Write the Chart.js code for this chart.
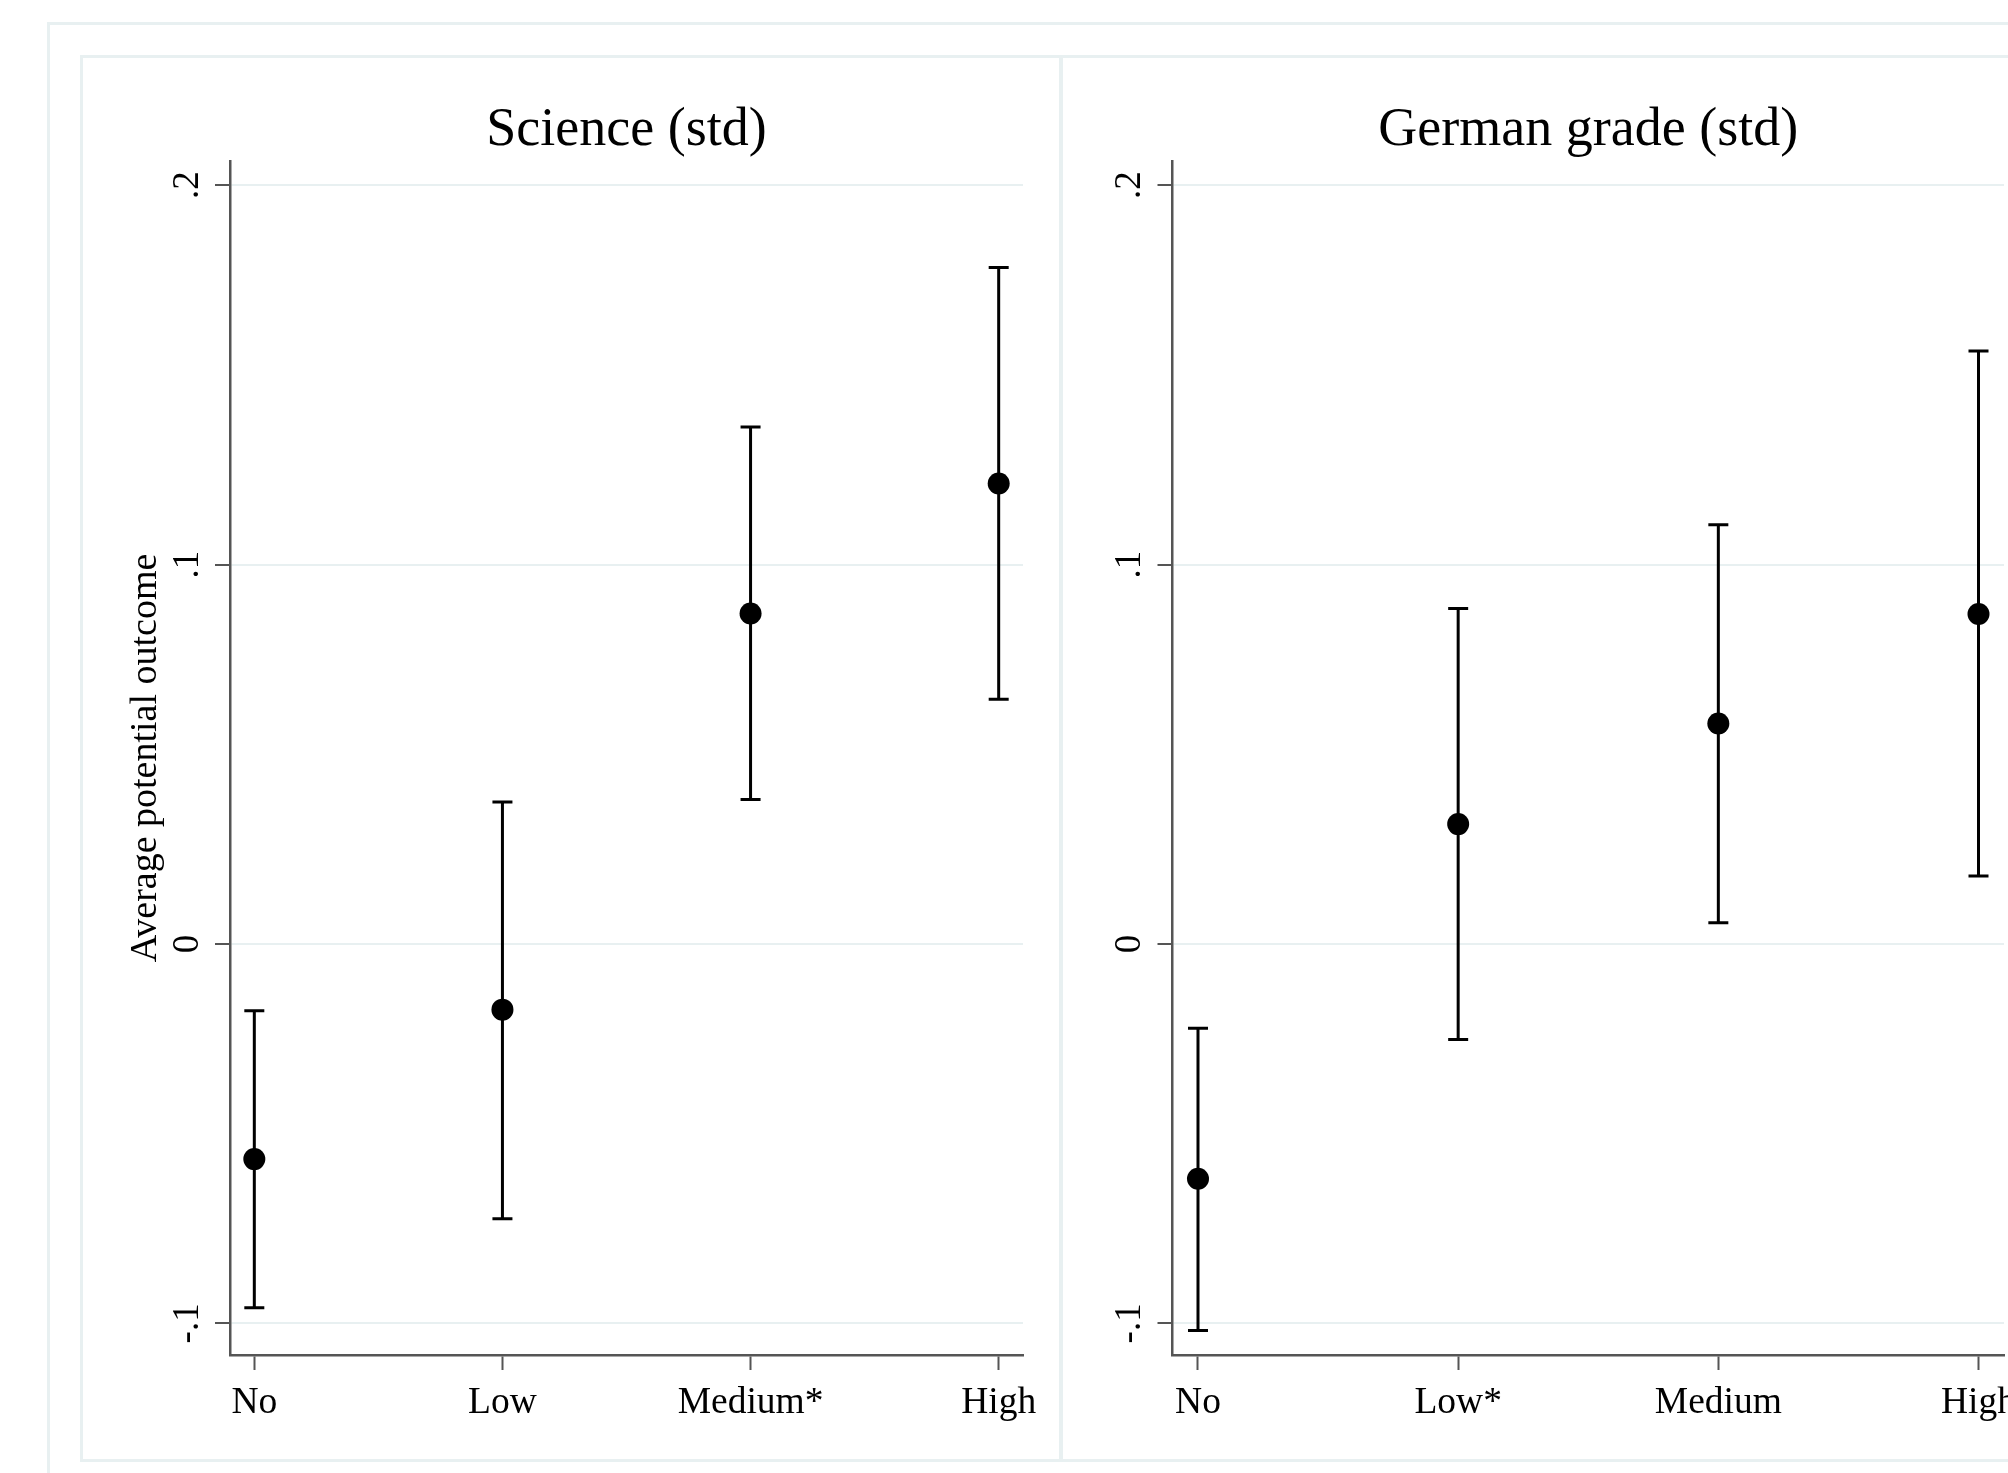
<!DOCTYPE html>
<html>
<head>
<meta charset="utf-8">
<script src="https://cdn.jsdelivr.net/npm/chart.js@4.4.1/dist/chart.umd.min.js"></script>
<style>
  html, body { margin: 0; padding: 0; background: #fff; overflow: hidden; width: 2008px; height: 1473px; }
  .frame { position: absolute; box-sizing: border-box; border: 3px solid #e8f0f1; }
  canvas { position: absolute; }
</style>
</head>
<body>
<div class="frame" style="left:47px;top:22px;width:2100px;height:1500px"></div>
<div class="frame" style="left:80px;top:55px;width:982px;height:1407px"></div>
<div class="frame" style="left:1060px;top:55px;width:982px;height:1407px"></div>
<canvas id="science" width="980" height="1405" style="left:81px;top:56px"></canvas>
<canvas id="german" width="980" height="1405" style="left:1061px;top:56px"></canvas>
<script>
// categories per panel
const scienceCats = ['No', 'Low', 'Medium*', 'High'];
const germanCats = ['No', 'Low*', 'Medium', 'High'];

// point estimates and confidence bounds
const scienceEst = [-0.0567, -0.0173, 0.0871, 0.1214];
const scienceLo  = [-0.0959, -0.0724, 0.0381, 0.0645];
const scienceHi  = [-0.0176, 0.0374, 0.1363, 0.1783];

const germanEst = [-0.0619, 0.0316, 0.0581, 0.0870];
const germanLo  = [-0.1019, -0.0252, 0.0056, 0.0179];
const germanHi  = [-0.0222, 0.0884, 0.1105, 0.1563];

// y axis ticks
const yTicks = [-0.1, 0, 0.1, 0.2];
const yTickLabels = ['-.1', '0', '.1', '.2'];

const serif = '"Liberation Serif", "Times New Roman", serif';
const axisGray = '#555';
const gridTint = '#e8f0f1';

// whiskers with caps, drawn under the markers
const errorBars = {
  id: 'errorBars',
  beforeDatasetsDraw(chart) {
    const { ctx, scales: { x, y } } = chart;
    const ds = chart.data.datasets[0];
    ctx.save();
    ctx.strokeStyle = '#000';
    ctx.lineWidth = 3;
    ds.lo.forEach((lo, i) => {
      const px = x.getPixelForValue(i);
      const top = y.getPixelForValue(ds.hi[i]);
      const bot = y.getPixelForValue(lo);
      ctx.beginPath();
      ctx.moveTo(px, top); ctx.lineTo(px, bot);
      ctx.moveTo(px - 10, top); ctx.lineTo(px + 10, top);
      ctx.moveTo(px - 10, bot); ctx.lineTo(px + 10, bot);
      ctx.stroke();
    });
    ctx.restore();
  }
};

function makePanel(id, title, cats, est, lo, hi, yTitle, yWidth, padRight) {
  new Chart(document.getElementById(id), {
    type: 'scatter',
    data: {
      datasets: [{
        data: est.map((v, i) => ({ x: i, y: v })),
        lo: lo,
        hi: hi,
        pointRadius: 11,
        pointHoverRadius: 11,
        backgroundColor: '#000',
        borderWidth: 0
      }]
    },
    options: {
      responsive: false,
      animation: false,
      layout: { padding: { right: padRight } },
      plugins: {
        legend: { display: false },
        tooltip: { enabled: false },
        title: {
          display: true,
          text: title,
          fullSize: false,
          color: '#000',
          font: { family: serif, size: 54, weight: 'normal', lineHeight: 1.1 },
          padding: { top: 45, bottom: 0.6 }
        }
      },
      scales: {
        x: {
          type: 'linear',
          min: -0.098,
          max: 3.098,
          afterBuildTicks: (s) => { s.ticks = cats.map((c, i) => ({ value: i })); },
          afterFit: (s) => { s.height = 106; },
          ticks: {
            autoSkip: false,
            maxRotation: 0,
            padding: 11,
            color: '#000',
            font: { family: serif, size: 37.5, lineHeight: 1.2 },
            callback: (v) => cats[v]
          },
          grid: { drawOnChartArea: false, tickLength: 15, tickColor: axisGray, tickWidth: 2 },
          border: { color: axisGray, width: 2.5 }
        },
        y: {
          min: -0.10833,
          max: 0.20638,
          afterBuildTicks: (s) => { s.ticks = yTicks.map(v => ({ value: v })); },
          afterFit: (s) => { s.width = yWidth; },
          ticks: {
            minRotation: 90,
            maxRotation: 90,
            crossAlign: 'center',
            padding: 7,
            color: '#000',
            font: { family: serif, size: 37, lineHeight: 1.2 },
            callback: (v) => yTickLabels[yTicks.indexOf(v)]
          },
          grid: { color: gridTint, lineWidth: 2, tickLength: 15, tickColor: axisGray, tickWidth: 2 },
          border: { color: axisGray, width: 2.5 },
          title: {
            display: !!yTitle,
            text: yTitle,
            color: '#000',
            font: { family: serif, size: 38, lineHeight: 1.2 },
            padding: { top: 42.6, bottom: 0 }
          }
        }
      }
    },
    plugins: [errorBars]
  });
}

makePanel('science', 'Science (std)', scienceCats, scienceEst, scienceLo, scienceHi,
  'Average potential outcome', 149, 38);
makePanel('german', 'German grade (std)', germanCats, germanEst, germanLo, germanHi,
  '', 111.5, 37);
</script>
</body>
</html>
